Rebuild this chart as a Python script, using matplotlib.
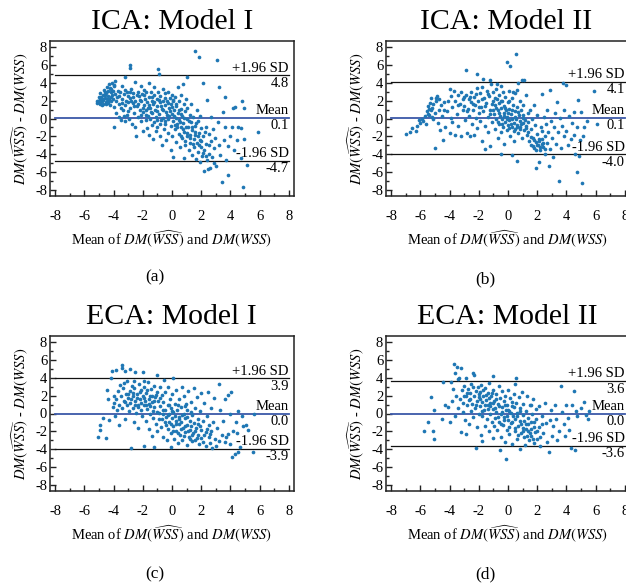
import numpy as np
import matplotlib
matplotlib.use('Agg')
import matplotlib.pyplot as plt
from matplotlib.ticker import MultipleLocator

plt.rcParams['font.family'] = ['Liberation Serif', 'DejaVu Serif']
plt.rcParams['mathtext.fontset'] = 'stix'
plt.rcParams['axes.unicode_minus'] = False

# points: (mean, difference)
ica1_pts = [(-5.1,1.7),(-5.05,2.0),(-5.0,1.85),(-4.95,2.2),(-4.9,1.6),(-4.85,2.4),(-4.8,1.9),(-4.75,2.6),(-4.7,2.1),(-4.65,3.2),
    (-4.6,2.3),(-4.55,1.8),(-4.5,2.8),(-4.45,3.5),(-4.4,2.0),(-4.35,2.5),(-4.3,3.8),(-4.25,1.5),(-4.2,2.9),(-4.15,3.3),(-4.1,4.0),
    (-4.05,2.2),(-4.0,-0.9),(-4.0,3.6),(-3.95,1.3),(-3.9,2.7),(-3.9,4.2),(-3.85,1.9),
    (-5.0,2.4),(-4.9,2.8),(-4.8,1.5),(-4.7,1.6),(-4.6,3.0),(-4.5,1.6),(-4.4,3.1),(-4.3,2.2),(-4.2,1.9),(-4.1,2.6),(-4.6,2.6),
    (-4.35,1.7),(-4.25,3.4),(-4.15,2.4),(-4.05,3.1),(-3.95,3.7),(-4.45,2.2),(-4.75,2.2),(-4.95,1.75),(-5.15,1.9),
    (-3.8,0.6),(-3.75,2.4),(-3.7,3.1),(-3.65,1.6),(-3.6,0.2),(-3.55,2.9),(-3.5,-0.2),(-3.5,1.2),(-3.45,3.6),(-3.4,2.2),(-3.35,0.9),
    (-3.3,2.7),(-3.25,1.5),(-3.2,4.6),(-3.2,-0.3),(-3.15,2.0),(-3.1,0.4),(-3.05,3.0),(-3.0,1.8),(-3.0,2.5),
    (-2.95,0.0),(-2.9,6.0),(-2.9,5.6),(-2.9,1.2),(-2.85,2.3),(-2.8,3.3),(-2.75,-0.6),(-2.7,1.7),(-2.65,2.8),(-2.6,0.6),(-2.55,4.1),
    (-2.5,2.0),(-2.5,-1.0),(-2.45,-2.0),(-2.4,1.4),(-2.35,3.0),(-2.3,0.2),(-2.25,2.5),(-2.2,1.0),(-2.15,3.6),(-2.1,-0.3),(-2.1,1.9),
    (-2.05,2.7),(-2.0,0.7),(-2.0,-1.4),
    (-1.95,3.2),(-1.9,1.5),(-1.85,2.2),(-1.8,-0.2),(-1.8,0.9),(-1.75,2.9),(-1.7,-1.1),(-1.7,1.8),(-1.65,0.3),(-1.6,4.0),(-1.6,2.4),
    (-1.55,-1.8),(-1.5,1.2),(-1.5,0.0),(-1.45,3.0),(-1.4,-0.7),(-1.4,2.0),(-1.35,0.6),(-1.3,1.6),(-1.3,-2.3),(-1.25,2.6),(-1.2,-0.4),
    (-1.2,3.5),(-1.15,1.0),(-1.1,0.2),(-1.1,-1.4),(-1.05,2.2),(-1.0,1.4),(-1.0,-0.9),(-0.95,5.5),(-0.9,4.9),(-0.95,3.0),
    (-0.9,0.5),(-0.85,1.8),(-0.8,-1.9),(-0.8,2.5),(-0.75,-0.2),(-0.7,1.1),(-0.7,-3.0),(-0.65,3.3),(-0.6,0.1),(-0.6,2.0),(-0.55,-1.2),
    (-0.5,1.5),(-0.5,-0.6),(-0.45,2.8),(-0.4,0.7),(-0.4,-2.4),(-0.35,1.9),(-0.3,-0.1),(-0.3,3.0),(-0.25,-1.6),(-0.2,1.2),(-0.2,0.3),
    (-0.15,2.3),(-0.1,-0.8),(-0.1,-3.5),(-0.05,1.6),(0.0,0.5),(0.0,-1.9),(0.0,2.6),
    (0.05,-0.3),(0.1,1.9),(0.1,-4.3),(0.15,0.9),(0.2,-1.2),(0.2,2.4),(0.25,0.1),(0.3,-2.6),(0.3,1.4),(0.35,-0.6),(0.4,3.5),(0.4,0.6),
    (0.45,-1.7),(0.5,2.0),(0.5,-0.2),(0.55,-3.2),(0.6,1.1),(0.6,-1.0),(0.65,2.6),(0.7,0.3),(0.7,-2.2),(0.75,3.8),(0.75,-0.5),(0.8,1.6),
    (0.8,-4.4),(0.85,-1.5),(0.9,0.8),(0.9,-3.0),(0.95,2.2),(1.0,-0.1),(1.0,4.6),(1.0,-2.0),
    (1.05,1.2),(1.1,-0.9),(1.15,-3.5),(1.2,0.4),(1.2,-1.8),(1.25,-2.7),(1.3,1.6),(1.3,-0.4),(1.35,-4.1),(1.4,-1.3),(1.45,0.2),
    (1.5,-2.3),(1.5,-3.2),(1.55,-0.8),(1.6,7.5),(1.6,-1.8),(1.65,-4.5),(1.7,-2.7),(1.7,1.0),(1.75,-0.3),(1.8,-3.7),(1.85,6.8),
    (1.85,-1.6),(1.9,-4.8),(1.9,-2.4),(1.95,0.3),(2.0,-3.2),(2.0,-1.1),
    (2.05,-4.2),(2.1,-2.0),(2.15,3.9),(2.2,-5.8),(2.2,-3.5),(2.3,-0.9),(2.35,-2.8),(2.4,2.1),(2.4,-4.6),(2.45,-5.6),(2.5,-1.7),
    (2.55,-3.9),(2.6,-5.5),(2.65,-2.5),(2.7,0.2),(2.75,-4.3),(2.8,-1.2),(2.85,-3.3),(2.9,-5.0),(2.95,-2.2),(3.0,-5.3),
    (3.1,6.5),(3.15,-0.4),(3.2,3.5),(3.2,-3.0),(3.3,-4.1),(3.4,-7.1),(3.5,0.7),(3.55,-2.4),(3.6,-1.0),(3.65,2.4),(3.7,-4.6),
    (3.8,-3.1),(3.85,-6.3),(3.95,-1.9),
    (4.1,-1.0),(4.15,1.2),(4.25,-3.5),(4.3,1.3),(4.45,-2.4),(4.55,-1.0),(4.7,-1.1),(4.7,-4.4),(4.8,2.0),(4.85,-7.6),(4.95,1.2),
    (4.95,-2.3),(5.1,-5.2),(5.9,-1.5),
    (-3.6,2.5),(-3.4,1.7),(-3.2,3.2),(-3.0,0.8),(-2.8,2.0),(-2.6,1.4),(-2.4,2.6),(-2.2,2.1),(-2.0,1.2),(-1.9,2.6),(-1.75,0.4),
    (-1.55,1.5),(-1.45,0.7),(-1.35,2.4),(-1.2,1.8),(-1.05,0.8),(-0.9,2.1),(-0.75,1.4),(-0.6,0.9),(-0.5,2.3),(-0.35,0.4),(-0.25,1.7),
    (-0.15,0.8),(0.0,1.3),(0.05,2.1),(0.15,0.3),(0.25,1.6),(0.35,-1.0),(0.45,0.9),(0.55,-0.4),(0.65,0.5),(0.75,-1.2),(0.85,0.1),
    (0.95,-0.9),(1.05,-1.6),(1.15,-0.3),(1.25,-2.2),(1.35,-1.0),(1.45,-2.8),(1.55,-1.5),(1.65,-0.5),(1.75,-2.0),(1.85,-3.0),
    (2.0,-2.5),(2.1,-3.8),(2.25,-1.5),(2.35,-4.2),(2.5,-3.0),(-2.7,2.4),(-2.3,1.6),(-1.65,1.2),(-0.85,-0.6),(-0.45,-0.3),(0.2,-0.7),
    (0.6,-1.9),(0.9,-2.5),(-3.3,0.3),(-2.9,2.9),(-2.1,0.4),(-1.0,-0.2)]

ica2_pts = [(-7.0,-1.7),(-6.7,-1.5),(-6.55,-1.1),(-6.3,-1.4),(-6.2,-0.8),(-6.1,-0.2),(-6.0,-0.5),(-5.9,0.0),(-5.8,-0.3),(-5.7,0.3),
    (-5.6,-0.6),(-5.55,0.8),(-5.5,1.4),(-5.45,0.5),(-5.4,1.1),(-5.35,1.7),(-5.3,0.9),(-5.25,2.3),(-5.2,1.2),(-5.15,-0.1),(-5.1,1.6),
    (-5.0,0.6),(-5.0,-3.3),(-4.95,1.9),
    (-4.9,2.3),(-4.85,2.5),(-4.8,-0.5),(-4.75,1.0),(-4.7,2.2),(-4.65,-1.3),(-4.6,1.5),(-4.5,0.3),(-4.45,-2.4),(-4.4,1.8),(-4.3,-0.9),
    (-4.2,0.8),(-4.1,2.0),(-4.0,-1.6),(-3.95,3.3),(-3.9,0.1),(-3.85,1.3),(-3.8,-0.4),(-3.7,3.1),(-3.65,2.0),(-3.6,-1.8),(-3.5,0.5),
    (-3.45,2.6),(-3.4,-0.8),(-3.3,1.6),(-3.25,3.0),(-3.2,-1.9),(-3.1,0.9),(-3.05,2.2),
    (-3.0,1.4),(-2.95,-0.2),(-2.9,5.4),(-2.85,2.6),(-2.8,-1.6),(-2.75,1.1),(-2.7,2.2),(-2.65,0.3),(-2.6,-2.0),(-2.55,1.8),(-2.5,2.9),
    (-2.45,-0.6),(-2.4,0.9),(-2.35,2.4),(-2.3,-1.8),(-2.25,1.5),(-2.2,0.1),(-2.15,3.4),(-2.1,5.0),(-2.1,-1.1),(-2.05,2.0),(-2.0,0.6),
    (-1.95,2.8),(-1.9,-0.3),(-1.85,1.3),(-1.8,3.5),(-1.75,-2.5),(-1.7,4.4),(-1.7,0.8),(-1.65,2.3),(-1.6,-0.8),(-1.55,-3.4),(-1.5,1.7),
    (-1.45,3.1),(-1.4,0.2),(-1.35,-1.5),(-1.3,2.5),(-1.25,1.0),(-1.2,4.3),(-1.2,-3.1),(-1.15,3.8),(-1.1,-0.4),(-1.05,1.9),
    (-1.0,2.9),(-0.95,0.5),(-0.9,-1.2),(-0.9,1.5),(-0.85,3.3),(-0.8,-0.1),(-0.75,2.2),(-0.7,-2.2),(-0.7,0.9),(-0.65,1.7),(-0.6,-0.6),
    (-0.6,2.6),(-0.55,0.3),(-0.5,-4.0),(-0.5,1.2),(-0.45,-1.5),(-0.45,3.6),(-0.4,0.0),(-0.4,2.0),(-0.35,-0.9),(-0.3,1.4),(-0.3,-2.8),
    (-0.25,0.6),(-0.2,2.4),(-0.2,-0.4),(-0.15,1.0),(-0.1,6.3),(-0.1,-1.3),(-0.05,0.2),(0.0,1.8),(0.0,-0.7),(0.05,3.1),(0.1,-0.2),
    (0.1,1.1),(0.15,5.9),(0.15,-1.9),(0.2,0.5),(0.25,2.3),(0.25,-0.9),(0.3,-4.1),(0.3,0.0),(0.35,1.5),(0.4,-0.5),(0.4,-2.5),(0.45,0.8),
    (0.5,2.8),(0.5,-1.2),(0.55,7.2),(0.55,-0.1),(0.6,-4.7),(0.6,1.3),(0.65,-0.7),(0.7,3.9),(0.7,-1.6),(0.75,0.4),(0.8,-0.3),(0.8,2.0),
    (0.85,-1.0),(0.9,0.9),(0.95,4.3),(0.95,-2.2),(1.0,-0.5),(1.0,1.5),(1.05,0.1),(1.1,4.3),(1.1,-1.3),
    (1.15,-0.2),(1.2,2.6),(1.25,-0.8),(1.3,-1.8),(1.35,0.6),(1.4,-0.4),(1.45,-2.5),(1.5,1.0),(1.55,-1.2),(1.6,-2.9),(1.65,-0.1),
    (1.7,-2.2),(1.75,1.5),(1.8,-3.3),(1.85,-0.7),(1.9,-2.6),(1.95,-5.5),(2.0,-1.7),(2.0,0.4),(2.05,-3.0),(2.1,-4.8),(2.15,-2.3),
    (2.2,-3.5),(2.25,-0.9),(2.3,2.7),(2.3,-2.8),(2.35,-1.4),(2.4,-3.2),(2.45,0.2),(2.5,-2.0),(2.55,-4.0),(2.6,-0.6),(2.65,-2.7),
    (2.7,1.0),(2.75,-1.5),(2.8,-5.3),(2.85,-3.4),(2.9,3.2),(2.95,-0.3),(3.0,-2.2),
    (3.1,-4.3),(3.15,-1.0),(3.2,0.6),(3.3,-2.8),(3.35,1.8),(3.45,-1.5),(3.5,-7.0),(3.55,0.1),(3.6,-3.3),(3.7,-0.8),(3.75,3.9),
    (3.8,-2.0),(3.85,0.9),(3.95,3.7),(4.0,-1.4),(4.1,-3.0),(4.2,0.3),(4.3,-2.3),(4.4,-0.5),(4.5,0.7),(4.55,-1.8),(4.6,-3.9),
    (4.7,-6.0),(4.75,-0.9),(4.8,2.1),(4.85,-4.2),(4.9,-2.4),(5.0,0.7),(5.05,-7.2),(5.1,-1.9),(5.2,-0.9),(5.4,-0.3),(5.9,3.1),(6.1,-0.6),
    (-1.0,0.9),(-0.9,2.3),(-0.8,1.2),(-0.7,-0.4),(-0.6,0.6),(-0.5,1.9),(-0.4,-0.6),(-0.3,0.3),(-0.2,1.2),(-0.1,-0.1),(0.0,0.6),
    (0.05,-1.1),(0.1,2.0),(0.2,-0.6),(0.3,1.0),(0.4,-1.4),(0.5,0.2),(0.6,-0.9),(0.7,0.7),(0.8,-1.2),(0.9,-0.6),(1.0,0.4),(1.2,-1.1),
    (1.4,-1.5),(1.6,-2.1),(1.7,-3.1),(1.8,-2.4),(1.9,-3.5),(2.0,-2.9),(2.1,-2.5),(2.2,-3.2),(2.3,-2.3),(2.4,-2.7),(2.5,-3.4),
    (-2.6,2.4),(-2.4,1.6),(-2.2,2.7),(-2.0,1.3),(-1.8,2.2),(-1.6,1.4),(-1.4,2.7),(-1.2,0.5),(-1.1,1.6),(-3.4,1.5),(-3.0,2.4),
    (-2.8,0.8),(-4.4,0.9),(-3.9,2.5),(-5.2,0.2),(-5.4,0.4),(-0.75,3.8),(-0.35,2.9),(0.35,2.9),(0.6,3.2)]

eca1_pts = [(-5.05,-2.6),(-4.95,-1.8),(-4.9,-1.3),(-4.55,-2.7),(-4.75,-0.5),(-4.45,2.6),(-4.35,1.6),(-4.3,-0.7),(-4.15,3.9),
    (-4.1,4.7),(-4.05,0.7),(-4.0,1.2),(-3.95,2.0),(-3.9,-0.3),
    (-3.85,4.8),(-3.8,1.6),(-3.75,0.4),(-3.7,2.5),(-3.65,1.0),(-3.6,-1.3),(-3.55,3.2),(-3.5,1.9),(-3.45,5.1),(-3.4,0.6),(-3.4,5.4),
    (-3.35,2.8),(-3.3,1.4),(-3.25,4.7),(-3.2,-0.6),(-3.15,2.2),(-3.1,0.9),(-3.05,3.6),(-3.0,1.7),
    (-2.95,0.3),(-2.9,2.5),(-2.9,5.0),(-2.85,1.2),(-2.8,-3.8),(-2.75,3.1),(-2.7,0.6),(-2.65,1.9),(-2.6,-1.0),(-2.6,2.8),(-2.55,1.4),
    (-2.5,4.6),(-2.45,0.1),(-2.4,2.2),(-2.35,1.0),(-2.3,-1.6),(-2.25,3.3),(-2.2,1.6),(-2.15,0.4),(-2.1,2.6),(-2.05,-0.3),(-2.0,1.9),
    (-2.0,4.6),
    (-1.95,0.9),(-1.9,-3.6),(-1.9,2.9),(-1.85,1.4),(-1.8,-0.8),(-1.75,2.3),(-1.7,0.5),(-1.65,3.5),(-1.6,1.1),(-1.55,-1.7),(-1.5,2.0),
    (-1.5,0.0),(-1.45,2.7),(-1.4,-2.5),(-1.35,1.3),(-1.3,-0.5),(-1.25,3.1),(-1.2,0.7),(-1.2,-3.7),(-1.15,1.8),(-1.1,-1.2),(-1.05,4.3),
    (-1.05,2.4),(-1.0,0.2),(-1.0,-2.0),
    (-0.95,1.4),(-0.9,-0.6),(-0.85,3.0),(-0.8,0.8),(-0.75,-1.5),(-0.7,2.1),(-0.65,-0.1),(-0.6,-2.6),(-0.6,1.3),(-0.55,3.7),(-0.5,0.4),
    (-0.5,-1.0),(-0.45,2.4),(-0.4,-0.4),(-0.35,-3.0),(-0.3,1.0),(-0.3,-1.7),(-0.25,2.9),(-0.2,0.0),(-0.2,-0.9),(-0.15,1.6),(-0.1,-2.2),
    (-0.1,-3.7),(-0.05,0.6),(0.0,-0.5),(0.0,2.2),
    (0.05,-1.4),(0.1,3.9),(0.1,0.2),(0.15,-2.8),(0.2,1.1),(0.25,-0.8),(0.3,-1.9),(0.3,2.6),(0.35,0.4),(0.4,-3.3),(0.45,-0.4),(0.5,1.6),
    (0.5,-1.2),(0.55,-2.4),(0.6,0.7),(0.65,-0.9),(0.7,2.9),(0.7,-3.0),(0.75,-1.6),(0.8,0.0),(0.85,1.9),(0.9,-2.1),(0.9,-0.5),
    (0.95,1.1),(1.0,-3.5),(1.0,-1.3),
    (1.05,0.4),(1.1,2.5),(1.15,-2.6),(1.2,-0.8),(1.25,-1.8),(1.3,1.3),(1.35,-3.1),(1.4,-0.2),(1.45,-2.2),(1.5,2.8),(1.5,-1.1),
    (1.55,0.6),(1.6,-2.9),(1.65,-1.6),(1.7,1.8),(1.75,-0.6),(1.8,-2.4),(1.85,-3.4),(1.9,0.3),(1.95,-1.4),(2.0,2.3),(2.0,-2.7),
    (2.1,-0.8),(2.15,-3.2),(2.2,1.2),(2.3,-2.1),(2.35,-3.6),(2.4,-0.3),(2.45,2.4),(2.5,-2.6),(2.55,-1.3),(2.6,-3.3),(2.65,0.6),
    (2.7,-2.0),(2.75,-3.8),(2.8,-1.0),(2.9,1.7),(2.95,-2.8),(3.0,-3.6),
    (3.1,-1.6),(3.2,-3.1),(3.25,3.3),(3.3,0.4),(3.4,-2.4),(3.5,-0.8),(3.6,1.6),(3.65,-3.2),(3.7,-2.6),(3.8,2.1),(3.85,-2.3),
    (3.95,0.0),(4.0,-3.4),(4.05,2.4),(4.1,-4.8),(4.2,-1.9),(4.3,-4.5),(4.35,-0.9),(4.45,-2.2),(4.5,-4.3),(4.55,0.3),(4.65,-3.7),
    (4.8,-0.3),(4.85,-1.4),(5.05,-1.3),(5.2,-1.8),(5.55,-4.3),(5.6,0.0),
    (-3.2,1.3),(-3.0,2.2),(-2.8,1.6),(-2.7,2.3),(-2.5,1.0),(-2.4,1.7),(-2.3,0.7),(-2.2,2.4),(-2.1,1.2),(-1.9,1.7),(-1.8,0.9),
    (-1.7,2.6),(-1.6,1.6),(-1.5,0.8),(-1.4,1.9),(-1.3,0.3),(-1.2,1.4),(-1.1,2.1),(-0.9,0.1),(-0.8,1.7),(-0.7,-0.6),(-0.6,0.4),
    (-0.4,-1.3),(-0.3,-0.2),(-0.1,-1.2),(0.0,0.3),(0.1,-2.0),(0.2,-0.3),(0.3,-1.2),(0.4,-2.2),(0.5,-0.6),(0.6,-1.7),(0.7,-0.2),
    (0.8,-2.5),(0.9,-1.4),(1.0,-0.4),(1.1,-1.9),(1.2,-2.8),(1.3,-1.4),(1.4,-2.4),(1.6,-1.9),(1.7,-2.7),(1.8,-1.2),(2.0,-1.8),
    (2.2,-2.4),(2.4,-1.7),(2.6,-2.3),(-3.3,3.4),(-2.6,3.6),(-1.9,3.6),(0.9,0.8),(1.3,0.2),(-0.2,0.9),(0.4,0.9)]

eca2_pts = [(-5.75,-2.0),(-5.5,-0.9),(-5.25,1.8),(-5.1,-1.9),(-5.05,-2.8),(-5.05,0.4),(-4.5,-0.6),(-4.45,3.5),(-4.3,0.9),(-4.1,0.7),
    (-4.0,-0.9),(-3.9,3.5),(-3.85,1.4),(-3.75,2.7),(-3.7,5.5),(-3.65,-0.3),(-3.6,4.5),(-3.55,2.0),(-3.5,5.2),(-3.45,3.8),(-3.4,0.6),
    (-3.35,4.0),(-3.3,1.6),(-3.25,5.1),(-3.2,-2.1),(-3.15,2.6),(-3.1,0.2),(-3.05,1.2),(-3.0,3.1),
    (-2.95,-0.7),(-2.9,-2.3),(-2.9,2.0),(-2.85,4.0),(-2.8,0.9),(-2.75,2.7),(-2.7,1.5),(-2.65,-1.2),(-2.6,2.3),(-2.55,0.3),(-2.5,3.3),
    (-2.45,1.1),(-2.4,4.5),(-2.4,-0.4),(-2.35,1.9),(-2.3,4.3),(-2.25,0.6),(-2.2,-3.8),(-2.2,2.5),(-2.15,1.4),(-2.1,-1.5),(-2.05,3.0),
    (-2.0,0.0),(-2.0,1.8),
    (-1.95,2.4),(-1.9,0.8),(-1.85,-2.4),(-1.85,3.2),(-1.8,1.3),(-1.75,-3.1),(-1.75,-0.3),(-1.7,2.0),(-1.65,0.4),(-1.6,2.8),
    (-1.55,-1.4),(-1.5,1.5),(-1.45,-0.6),(-1.4,2.3),(-1.35,0.9),(-1.3,-2.0),(-1.3,3.4),(-1.25,1.2),(-1.2,-0.1),(-1.15,1.9),
    (-1.1,-1.0),(-1.05,2.6),(-1.0,4.2),(-1.0,0.5),(-1.0,-2.7),
    (-0.95,1.4),(-0.9,-0.5),(-0.85,2.2),(-0.8,0.2),(-0.75,-1.8),(-0.7,1.1),(-0.65,3.1),(-0.6,-0.9),(-0.55,-4.1),(-0.55,1.7),
    (-0.5,0.0),(-0.45,-2.6),(-0.4,2.5),(-0.4,0.7),(-0.35,-1.3),(-0.3,1.4),(-0.25,-0.4),(-0.2,-3.2),(-0.2,2.0),(-0.15,-5.1),
    (-0.15,0.4),(-0.1,-1.8),(-0.05,1.0),(0.0,-0.7),(0.0,2.6),
    (0.05,-2.3),(0.1,0.3),(0.15,1.7),(0.2,-1.1),(0.25,-3.4),(0.3,0.8),(0.35,-0.3),(0.4,2.2),(0.45,-1.9),(0.5,3.3),(0.5,-0.6),
    (0.55,3.9),(0.55,1.2),(0.6,-2.8),(0.65,0.1),(0.7,-1.4),(0.75,1.8),(0.8,-3.9),(0.8,-0.8),(0.85,0.6),(0.9,-2.2),(0.95,2.4),
    (1.0,-0.2),(1.0,-1.6),
    (1.05,1.1),(1.1,-2.6),(1.15,-3.5),(1.2,0.3),(1.25,-1.2),(1.3,2.0),(1.35,-2.0),(1.4,-0.5),(1.45,-3.0),(1.5,0.9),(1.55,-1.7),
    (1.6,-2.5),(1.65,0.0),(1.7,1.6),(1.75,-1.0),(1.8,-3.3),(1.85,-2.1),(1.9,0.5),(1.95,-0.6),(2.0,-2.8),
    (2.1,-1.5),(2.15,0.8),(2.2,-3.6),(2.3,-0.3),(2.4,-2.2),(2.5,1.2),(2.6,-1.1),(2.7,-3.2),(2.8,-4.3),(2.85,-0.7),(2.95,0.4),
    (3.0,-2.5),(3.1,-1.4),(3.2,1.0),(3.3,-0.6),(3.35,-3.0),(3.5,-1.9),(3.65,3.1),(3.7,0.2),(3.8,-1.2),(3.9,-2.5),(4.0,1.0),
    (4.1,-0.5),(4.2,-1.8),(4.3,-3.8),(4.4,0.9),(4.5,2.5),(4.6,-4.1),(4.65,0.3),(4.75,-0.3),(5.0,0.6),(5.2,1.3),(5.35,-0.2),
    (5.5,-0.6),(5.55,0.3),
    (-2.2,1.0),(-2.0,2.2),(-1.9,1.6),(-1.8,0.3),(-1.7,2.6),(-1.6,1.0),(-1.5,2.1),(-1.4,0.5),(-1.3,1.7),(-1.2,0.8),(-1.1,2.3),
    (-1.0,1.2),(-0.9,0.6),(-0.8,1.6),(-0.7,-0.4),(-0.6,0.8),(-0.5,-1.2),(-0.4,0.2),(-0.3,-0.7),(-0.2,1.0),(-0.1,-0.3),(0.0,0.4),
    (0.1,-1.5),(0.2,0.1),(0.3,-0.9),(0.4,0.7),(0.5,-1.6),(0.6,-0.3),(0.7,-2.4),(0.8,0.3),(0.9,-1.2),(1.0,-2.0),(1.1,-0.8),
    (1.2,-1.7),(1.3,-2.5),(1.4,-1.2),(1.5,-2.2),(1.6,-0.9),(1.7,-2.8),(1.8,-1.5),(2.0,-1.9),(2.2,-2.6),(2.3,-1.2),(-2.6,1.6),
    (-2.4,2.9),(-2.8,2.3),(-3.0,1.9),(-0.95,-1.4),(0.25,1.3),(1.6,0.9)]

titles = ['ICA: Model I', 'ICA: Model II', 'ECA: Model I', 'ECA: Model II']
panel_tags = ['(a)', '(b)', '(c)', '(d)']
# upper limit, mean, lower limit
limits = [(4.8, 0.1, -4.7), (4.1, 0.1, -4.0), (3.9, 0.0, -3.9), (3.6, 0.0, -3.6)]
all_pts = [ica1_pts, ica2_pts, eca1_pts, eca2_pts]

fig = plt.figure(figsize=(6.26, 5.85), dpi=100)

W = 244 / 626
H = 155 / 585
boxes = [(50 / 626, 1 - 196 / 585), (386 / 626, 1 - 196 / 585),
         (50 / 626, 1 - 491 / 585), (386 / 626, 1 - 491 / 585)]
title_xy = [(172, 22), (506, 22), (171, 317), (507, 317)]
tag_xy = [(155, 277), (485, 279), (155, 574), (485, 574)]

for i in range(4):
    ax = fig.add_axes([boxes[i][0], boxes[i][1], W, H])
    pts = np.array(all_pts[i])
    ax.scatter(pts[:, 0], pts[:, 1], s=7, color='#1f77b4', linewidths=0, zorder=3)

    up, mean, lo = limits[i]
    ax.plot([-8, 8], [up, up], color='#111111', lw=0.9, zorder=2)
    ax.plot([-8, 8], [lo, lo], color='#111111', lw=0.9, zorder=2)
    ax.plot([-8, 8], [mean, mean], color='#3b58a8', lw=1.3, zorder=2)

    for val, name in [(up, '+1.96 SD'), (mean, 'Mean'), (lo, '-1.96 SD')]:
        ax.annotate(name, (8, val), xytext=(0, 0.5), textcoords='offset points',
                    ha='right', va='bottom', fontsize=10.5, zorder=4)
        ax.annotate(f'{val:.1f}', (8, val), xytext=(0, -1), textcoords='offset points',
                    ha='right', va='top', fontsize=10.5, zorder=4)

    ax.set_xlim(-8.35, 8.35)
    ax.set_ylim(-8.63, 8.63)
    ax.xaxis.set_major_locator(MultipleLocator(2))
    ax.xaxis.set_minor_locator(MultipleLocator(1))
    ax.yaxis.set_major_locator(MultipleLocator(2))
    ax.yaxis.set_minor_locator(MultipleLocator(1))
    ax.tick_params(which='both', direction='in', top=False, right=False, labelsize=10.5, color='#222222')
    ax.tick_params(axis='x', which='major', length=4, width=1, pad=10)
    ax.tick_params(axis='y', which='major', length=4, width=1, pad=2)
    ax.tick_params(which='minor', length=2, width=1)
    for sp in ax.spines.values():
        sp.set_linewidth(1.1)
        sp.set_color('#222222')

    ax.set_xlabel(r'Mean of $DM(\widehat{WSS})$ and $DM(WSS)$', fontsize=10.5, labelpad=4)
    ax.set_ylabel(r'$DM(\widehat{WSS})$ - $DM(WSS)$', fontsize=10.5, labelpad=3)

    fig.text(title_xy[i][0] / 626, 1 - title_xy[i][1] / 585, titles[i],
             ha='center', va='center', fontsize=21.5)
    fig.text(tag_xy[i][0] / 626, 1 - tag_xy[i][1] / 585, panel_tags[i],
             ha='center', va='center', fontsize=12.5)

fig.savefig('out.png', dpi=100)
